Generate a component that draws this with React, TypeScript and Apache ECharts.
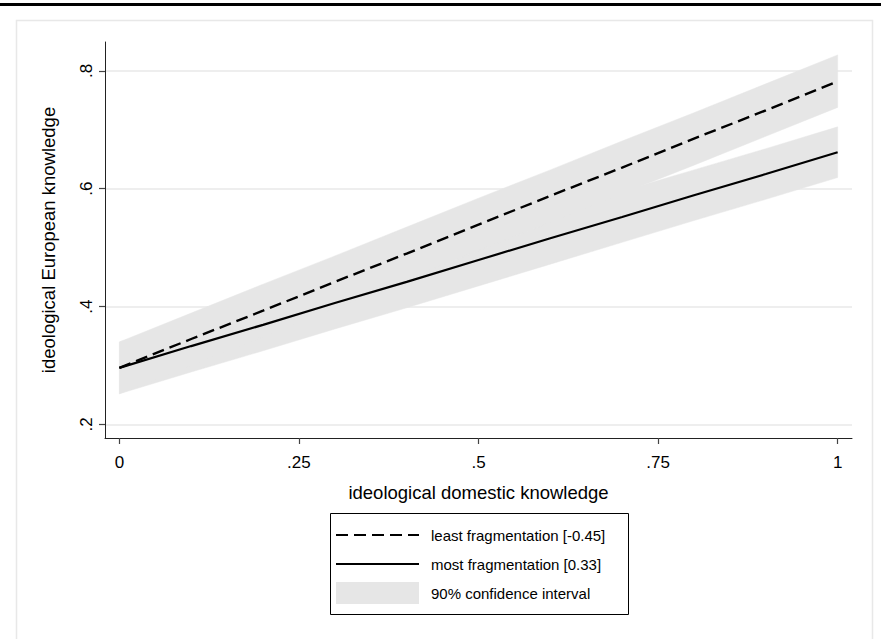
import React, { useEffect, useRef } from "react";
import * as echarts from "echarts";

// x positions at which the margins were evaluated
const xValues = [0, 0.1, 0.2, 0.3, 0.4, 0.5, 0.6, 0.7, 0.8, 0.9, 1];

// least fragmentation [-0.45]
const leastFragLine = [0.296, 0.345, 0.393, 0.442, 0.490, 0.539, 0.588, 0.636, 0.685, 0.733, 0.782];
const leastFragLower = [0.252, 0.300, 0.349, 0.397, 0.446, 0.495, 0.543, 0.592, 0.640, 0.689, 0.738];
const leastFragUpper = [0.340, 0.389, 0.438, 0.486, 0.535, 0.584, 0.632, 0.681, 0.729, 0.778, 0.827];

// most fragmentation [0.33]
const mostFragLine = [0.296, 0.333, 0.369, 0.406, 0.442, 0.479, 0.516, 0.552, 0.589, 0.625, 0.662];
const mostFragLower = [0.252, 0.289, 0.325, 0.362, 0.398, 0.435, 0.472, 0.509, 0.546, 0.582, 0.619];
const mostFragUpper = [0.340, 0.377, 0.413, 0.450, 0.486, 0.523, 0.559, 0.596, 0.632, 0.668, 0.705];

const xTicks = [0, 0.25, 0.5, 0.75, 1];
const yTicks = [0.2, 0.4, 0.6, 0.8];

const xTitle = "ideological domestic knowledge";
const yTitle = "ideological European knowledge";
const legendLabels = [
  "least fragmentation [-0.45]",
  "most fragmentation [0.33]",
  "90% confidence interval",
];

const FONT = "'Liberation Sans', Arial, sans-serif";
const BAND = "#e6e6e6";

function fmt(v: number): string {
  if (v === 0) return "0";
  if (v === 1) return "1";
  return String(+v.toFixed(2)).replace(/^0/, "");
}

export default function App() {
  const ref = useRef<HTMLDivElement>(null);
  useEffect(() => {
    if (!ref.current) return;
    const chart = echarts.init(ref.current, null, { renderer: "svg" });

    const pairs = (ys: number[]) => xValues.map((x, i) => [x, ys[i]]);

    const bandSeries = (id: string, lo: number[], hi: number[]) => ({
      type: "custom",
      name: id + "-band",
      silent: true,
      clip: true,
      z: 1,
      data: xValues.map((x, i) => [x, lo[i], hi[i]]),
      encode: { x: 0, y: [1, 2] },
      renderItem: (params: any, api: any) => {
        if (params.dataIndex !== 0) return null;
        const upper = xValues.map((x, i) => api.coord([x, hi[i]]));
        const lower = xValues.map((x, i) => api.coord([x, lo[i]])).reverse();
        return {
          type: "polygon",
          shape: { points: upper.concat(lower) },
          style: { fill: BAND, stroke: BAND, lineWidth: 0.5 },
        };
      },
    });

    const lx = 330;
    const ly = 513;
    const rowY = [535, 564, 593];

    chart.setOption({
      animation: false,
      grid: { left: 105, right: 29, top: 42, bottom: 201, containLabel: false },
      xAxis: {
        type: "value",
        min: -0.02,
        max: 1.02,
        name: xTitle,
        nameLocation: "middle",
        nameGap: 45,
        nameTextStyle: { fontFamily: FONT, fontSize: 18.5, color: "#000" },
        axisLine: { show: true, onZero: false, lineStyle: { color: "#222", width: 1 } },
        axisTick: { show: true, customValues: xTicks, length: 6, lineStyle: { color: "#444", width: 1.2 } },
        axisLabel: {
          customValues: xTicks,
          formatter: (v: number) => fmt(v),
          fontFamily: FONT,
          fontSize: 17,
          color: "#000",
          margin: 16,
        },
        splitLine: { show: false },
      },
      yAxis: {
        type: "value",
        min: 0.177,
        max: 0.849,
        name: yTitle,
        nameLocation: "middle",
        nameGap: 47,
        nameRotate: 90,
        nameTextStyle: { fontFamily: FONT, fontSize: 18.5, color: "#000" },
        axisLine: { show: true, onZero: false, lineStyle: { color: "#222", width: 1 } },
        axisTick: { show: true, customValues: yTicks, length: 6, lineStyle: { color: "#444", width: 1.2 } },
        axisLabel: {
          customValues: yTicks,
          formatter: (v: number) => fmt(v),
          rotate: 90,
          fontFamily: FONT,
          fontSize: 17,
          color: "#000",
          margin: 10,
        },
        splitLine: { show: true, lineStyle: { color: "#e8e8e8", width: 1.5 } },
      },
      series: [
        bandSeries("most", mostFragLower, mostFragUpper),
        bandSeries("least", leastFragLower, leastFragUpper),
        {
          type: "line",
          name: legendLabels[0],
          data: pairs(leastFragLine),
          symbol: "none",
          lineStyle: { color: "#000", width: 2.4, type: [12, 6] },
          z: 3,
        },
        {
          type: "line",
          name: legendLabels[1],
          data: pairs(mostFragLine),
          symbol: "none",
          lineStyle: { color: "#000", width: 2.2, type: "solid" },
          z: 3,
        },
      ],
      graphic: [
        { type: "rect", shape: { x: 0, y: 3, width: 881, height: 3 }, style: { fill: "#000" } },
        {
          type: "rect",
          shape: { x: 16.5, y: 20.5, width: 856, height: 640 },
          style: { fill: "none", stroke: "#e8e8e8", lineWidth: 1.5 },
        },
        {
          type: "rect",
          shape: { x: lx + 0.5, y: ly + 0.5, width: 298, height: 101 },
          style: { fill: "#fff", stroke: "#000", lineWidth: 1 },
        },
        {
          type: "line",
          shape: { x1: 336, y1: rowY[0], x2: 419, y2: rowY[0] },
          style: { stroke: "#000", lineWidth: 2, lineDash: [12, 6] },
        },
        {
          type: "line",
          shape: { x1: 336, y1: rowY[1], x2: 419, y2: rowY[1] },
          style: { stroke: "#000", lineWidth: 2 },
        },
        {
          type: "rect",
          shape: { x: 336, y: rowY[2] - 11, width: 83, height: 22 },
          style: { fill: BAND },
        },
        ...legendLabels.map((t, i) => ({
          type: "text",
          x: 431,
          y: rowY[i],
          style: {
            text: t,
            fontFamily: FONT,
            fontSize: 15,
            fill: "#000",
            verticalAlign: "middle",
            align: "left",
          },
        })),
      ],
    });
    return () => chart.dispose();
  }, []);
  return (
    <div
      ref={ref}
      style={{ position: "absolute", left: 0, top: 0, width: 881, height: 639, background: "#fff" }}
    />
  );
}
